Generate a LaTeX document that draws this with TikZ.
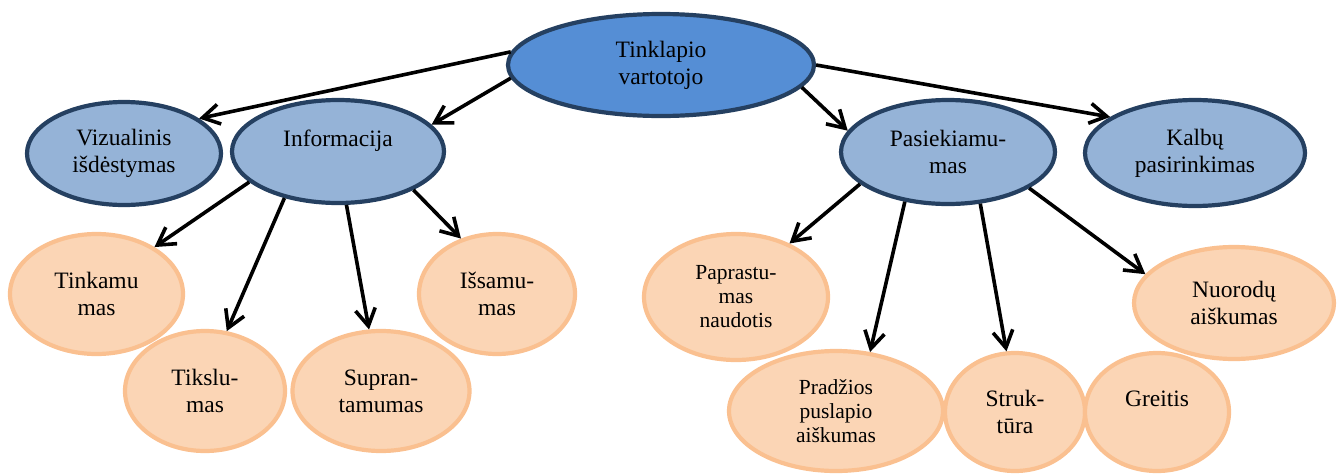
\documentclass[tikz,border=0pt]{standalone}
\usepackage{fontspec}
\setmainfont{Liberation Serif}
\usetikzlibrary{shapes.geometric,arrows.meta}

\definecolor{navyline}{RGB}{37,64,97}
\definecolor{rootblue}{RGB}{85,142,213}
\definecolor{mainblue}{RGB}{149,179,215}
\definecolor{leaffill}{RGB}{251,213,181}
\definecolor{leafline}{RGB}{250,192,144}

\tikzset{
  oval/.style={ellipse, inner sep=0pt, line width=4.2pt, align=center,
    font=\fontsize{23.5}{27}\selectfont},
  rootoval/.style={oval, draw=navyline, fill=rootblue},
  mainoval/.style={oval, draw=navyline, fill=mainblue},
  leafoval/.style={oval, draw=leafline, fill=leaffill},
  smalltext/.style={font=\fontsize{21.5}{24}\selectfont},
  link/.style={line width=3.6pt, -{Straight Barb[length=17pt,width=20pt]}}
}

\begin{document}
\begin{tikzpicture}[x=1pt,y=-1pt]
\useasboundingbox (0,0) rectangle (1337,474);

% root and first level (sizes: path diameters, line centred on the path)
\node[rootoval, minimum width=306pt, minimum height=102pt] (root) at (661,65)    {Tinklapio\\vartotojo};
\node[mainoval, minimum width=194pt, minimum height=103pt] (viz)  at (124,153.5) {Vizualinis\\išdėstymas};
\node[mainoval, minimum width=212pt, minimum height=103pt] (info) at (338,151.5) {Informacija\\\mbox{}};
\node[mainoval, minimum width=214pt, minimum height=104pt] (pas)  at (948,152)   {Pasiekiamu-\\mas};
\node[mainoval, minimum width=220pt, minimum height=106pt] (kalb) at (1195,153)  {Kalbų\\pasirinkimas};

% second level
\node[leafoval, minimum width=173pt, minimum height=120pt] (tink) at (96.5,294) {Tinkamu\\mas};
\node[leafoval, minimum width=160pt, minimum height=120pt] (tiks) at (205,391)  {Tikslu-\\mas};
\node[leafoval, minimum width=177pt, minimum height=120pt] (supr) at (381,391)  {Supran-\\tamumas};
\node[leafoval, minimum width=156pt, minimum height=120pt] (issa) at (497,294)  {Išsamu-\\mas};
\node[leafoval, smalltext, minimum width=184pt, minimum height=126pt] (papr) at (736,297) {Paprastu-\\mas\\naudotis};
\node[leafoval, smalltext, minimum width=214pt, minimum height=120pt] (prad) at (836,411) {Pradžios\\puslapio\\aiškumas};
\node[leafoval, minimum width=140pt, minimum height=118pt] (stru) at (1015,412) {Struk-\\tūra};
\node[leafoval, minimum width=144pt, minimum height=118pt] (grei) at (1157,412) {Greitis\\\mbox{}};
\node[leafoval, minimum width=200pt, minimum height=112pt] (nuor) at (1234,303) {Nuorodų\\aiškumas};

% connectors
\draw[link] (root.175.5) -- (viz.25);
\draw[link] (root.185.6) -- (info.16.8);
\draw[link] (root.351.1) -- (pas.168.8);
\draw[link] (root.0.7)   -- (kalb.157.8);

\draw[link] (info.199.3) -- (tink.39.6);
\draw[link] (info.221.4) -- (tiks.70.3);
\draw[link] (info.279.2) -- (supr.101.7);
\draw[link] (info.333.4) -- (issa.123.1);

\draw[link] (pas.200)   -- (papr.45.5);
\draw[link] (pas.229.7) -- (prad.60.5);
\draw[link] (pas.302.7) -- (stru.98.4);
\draw[link] (pas.336.3) -- (nuor.162);
\end{tikzpicture}
\end{document}
